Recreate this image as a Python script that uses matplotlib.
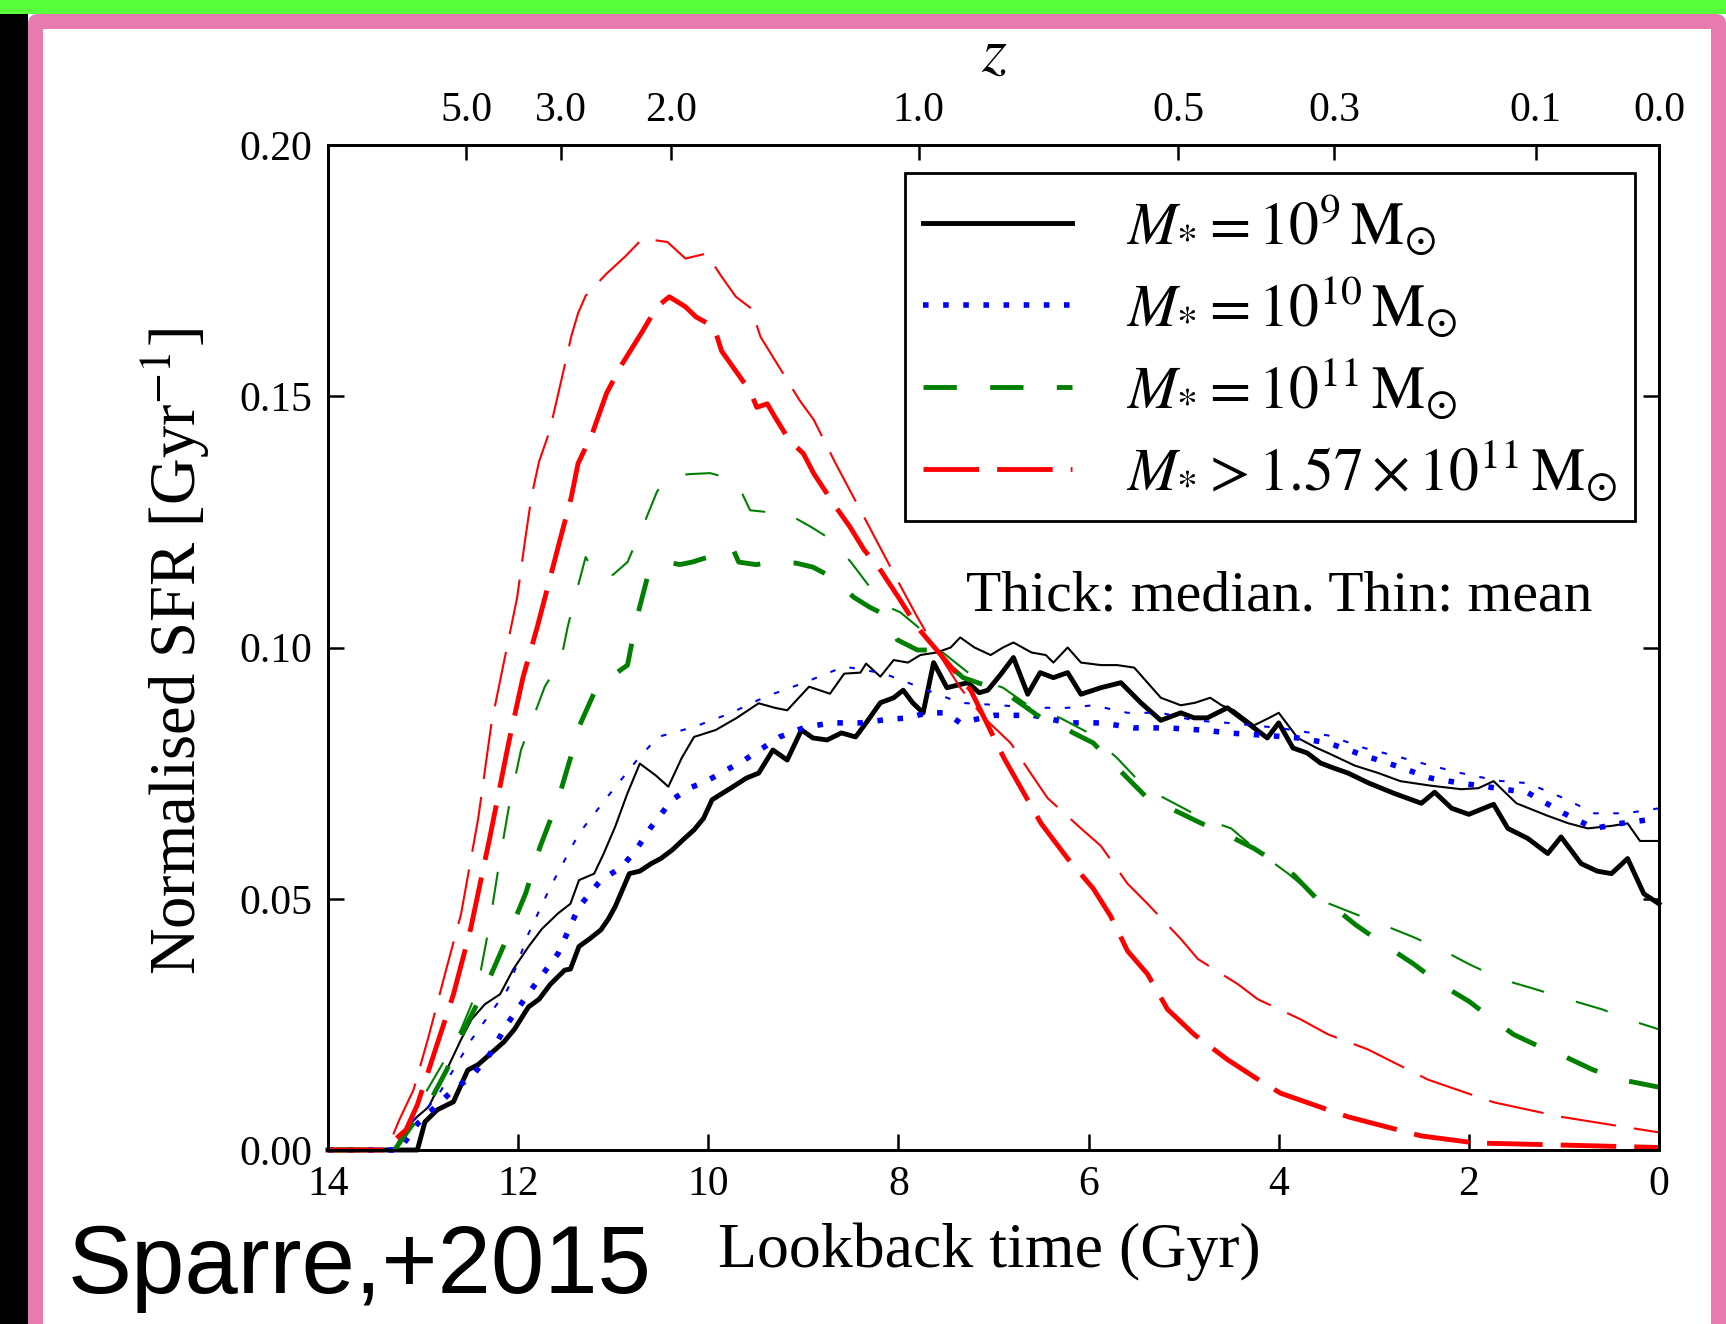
import numpy as np
import matplotlib
matplotlib.use('Agg')
import matplotlib.pyplot as plt
from matplotlib.patches import Rectangle, FancyBboxPatch

plt.rcParams['font.family'] = ['Liberation Serif', 'DejaVu Serif']
plt.rcParams['mathtext.fontset'] = 'stix'
plt.rcParams['lines.scale_dashes'] = False

# ---------------- data (lookback time [Gyr], normalised SFR [Gyr^-1]) ----------------
median_1e9 = [(14.0, 0), (13.3, 0), (13.06, 0), (12.98, 0.0056), (12.85, 0.0080), (12.68, 0.0096),
              (12.53, 0.0159), (12.42, 0.0170), (12.30, 0.0190), (12.15, 0.0215), (12.04, 0.0240),
              (11.89, 0.0285), (11.78, 0.0300), (11.66, 0.0330), (11.51, 0.0358), (11.45, 0.0360),
              (11.36, 0.0405), (11.25, 0.0420), (11.13, 0.0438), (11.05, 0.0460), (10.98, 0.0484),
              (10.83, 0.0550), (10.72, 0.0555), (10.60, 0.0570), (10.50, 0.0580), (10.38, 0.0597),
              (10.25, 0.0620), (10.15, 0.0637), (10.05, 0.0660), (9.96, 0.0697), (9.85, 0.0710),
              (9.74, 0.0723), (9.60, 0.0740), (9.47, 0.0750), (9.32, 0.0796), (9.17, 0.0776),
              (9.02, 0.0836), (8.90, 0.0820), (8.75, 0.0816), (8.60, 0.0830), (8.45, 0.0822),
              (8.34, 0.0850), (8.19, 0.0890), (8.05, 0.0900), (7.95, 0.0915), (7.85, 0.0890),
              (7.74, 0.0870), (7.63, 0.0970), (7.49, 0.0920), (7.38, 0.0925), (7.27, 0.0930),
              (7.15, 0.0910), (7.06, 0.0915), (6.93, 0.0945), (6.79, 0.0980), (6.64, 0.0907),
              (6.51, 0.0950), (6.37, 0.0940), (6.22, 0.0950), (6.08, 0.0907), (5.95, 0.0915),
              (5.87, 0.0920), (5.66, 0.0930), (5.45, 0.0890), (5.24, 0.0855), (5.03, 0.0870),
              (4.89, 0.0860), (4.75, 0.0860), (4.54, 0.0880), (4.33, 0.0850), (4.12, 0.0820),
              (4.00, 0.0850), (3.85, 0.0800), (3.70, 0.0790), (3.56, 0.0770), (3.42, 0.0760),
              (3.27, 0.0750), (3.05, 0.0730), (2.79, 0.0710), (2.50, 0.0690), (2.36, 0.0712),
              (2.18, 0.0680), (2.00, 0.0668), (1.74, 0.0688), (1.59, 0.0640), (1.38, 0.0620),
              (1.17, 0.0590), (1.03, 0.0623), (0.82, 0.0570), (0.65, 0.0555), (0.50, 0.0550),
              (0.33, 0.0580), (0.16, 0.0510), (0.00, 0.0490)]

mean_1e9 = [(14.0, 0), (13.3, 0), (13.25, 0.002), (13.10, 0.006), (12.94, 0.0086), (12.75, 0.016),
            (12.60, 0.022), (12.49, 0.026), (12.35, 0.029), (12.19, 0.031), (12.05, 0.036),
            (11.89, 0.0405), (11.75, 0.044), (11.58, 0.0471), (11.45, 0.049), (11.36, 0.0537),
            (11.20, 0.055), (11.10, 0.059), (10.98, 0.0643), (10.85, 0.071), (10.72, 0.0769),
            (10.55, 0.0745), (10.42, 0.0723), (10.28, 0.078), (10.15, 0.0822), (9.92, 0.0836),
            (9.70, 0.086), (9.47, 0.0889), (9.30, 0.088), (9.17, 0.0875), (8.94, 0.0922),
            (8.72, 0.0908), (8.57, 0.0948), (8.40, 0.095), (8.34, 0.0968), (8.19, 0.0942),
            (8.05, 0.0975), (7.90, 0.097), (7.77, 0.0985), (7.60, 0.099), (7.45, 0.100),
            (7.35, 0.102), (7.20, 0.100), (7.03, 0.0985), (6.90, 0.100), (6.79, 0.101),
            (6.60, 0.099), (6.45, 0.0985), (6.37, 0.097), (6.22, 0.100), (6.08, 0.097),
            (5.87, 0.0965), (5.70, 0.0965), (5.52, 0.096), (5.38, 0.093), (5.24, 0.090),
            (5.03, 0.0885), (4.88, 0.089), (4.72, 0.090), (4.60, 0.0885), (4.47, 0.0875),
            (4.26, 0.0845), (4.10, 0.086), (4.00, 0.087), (3.80, 0.082), (3.60, 0.080),
            (3.48, 0.079), (3.20, 0.0765), (2.95, 0.075), (2.72, 0.0734), (2.40, 0.0725),
            (2.08, 0.0718), (1.90, 0.072), (1.74, 0.0734), (1.50, 0.069), (1.17, 0.0665),
            (0.95, 0.065), (0.75, 0.064), (0.50, 0.0645), (0.33, 0.065), (0.20, 0.0615),
            (0.00, 0.0615)]

median_1e10 = [(14.0, 0), (13.25, 0), (13.06, 0.0052), (12.87, 0.0086), (12.68, 0.012), (12.49, 0.0146),
               (12.30, 0.019), (12.11, 0.0252), (11.89, 0.0312), (11.58, 0.0391), (11.36, 0.0484),
               (11.13, 0.0537), (10.91, 0.0563), (10.75, 0.060), (10.60, 0.0643), (10.38, 0.0697),
               (10.20, 0.072), (10.00, 0.0736), (9.62, 0.0776), (9.25, 0.0822), (9.00, 0.084),
               (8.72, 0.085), (8.40, 0.085), (8.15, 0.0856), (7.90, 0.086), (7.70, 0.087),
               (7.50, 0.087), (7.35, 0.085), (7.00, 0.0865), (6.58, 0.0865), (6.22, 0.085),
               (5.87, 0.085), (5.52, 0.084), (5.17, 0.084), (4.75, 0.0835), (4.54, 0.083),
               (4.12, 0.0825), (3.80, 0.082), (3.48, 0.081), (3.10, 0.0785), (2.79, 0.0766),
               (2.40, 0.074), (2.08, 0.073), (1.70, 0.072), (1.38, 0.0711), (1.00, 0.067),
               (0.68, 0.064), (0.40, 0.065), (0.00, 0.066)]

mean_1e10 = [(14.0, 0), (13.3, 0), (13.17, 0.0046), (12.87, 0.010), (12.68, 0.016), (12.49, 0.022),
             (12.30, 0.027), (12.11, 0.032), (11.89, 0.0431), (11.66, 0.0524), (11.36, 0.063),
             (11.06, 0.0703), (10.75, 0.0776), (10.53, 0.0822), (10.15, 0.0842), (9.77, 0.0869),
             (9.40, 0.0902), (9.02, 0.0928), (8.57, 0.0962), (8.35, 0.0955), (8.15, 0.0948),
             (7.90, 0.093), (7.70, 0.0915), (7.35, 0.089), (6.93, 0.0885), (6.58, 0.088),
             (6.22, 0.088), (5.95, 0.0885), (5.59, 0.087), (5.24, 0.087), (4.89, 0.0855),
             (4.54, 0.085), (4.00, 0.084), (3.48, 0.0825), (3.10, 0.080), (2.79, 0.0785),
             (2.40, 0.0765), (2.08, 0.075), (1.70, 0.0735), (1.38, 0.073), (1.00, 0.070),
             (0.68, 0.067), (0.35, 0.067), (0.00, 0.068)]

median_1e11 = [(14.0, 0), (13.3, 0), (13.13, 0.0046), (12.94, 0.0092), (12.75, 0.016), (12.57, 0.0239),
               (12.34, 0.0325), (12.08, 0.0438), (11.92, 0.0511), (11.77, 0.0603), (11.58, 0.0697),
               (11.45, 0.078), (11.36, 0.0842), (11.20, 0.091), (11.02, 0.0942), (10.85, 0.0965),
               (10.75, 0.106), (10.64, 0.114), (10.54, 0.115), (10.43, 0.117), (10.30, 0.1165),
               (10.17, 0.117), (10.00, 0.118), (9.85, 0.119), (9.75, 0.120), (9.68, 0.117),
               (9.50, 0.1165), (9.38, 0.1168), (9.08, 0.1168), (8.90, 0.116), (8.70, 0.114),
               (8.47, 0.110), (8.30, 0.108), (8.14, 0.1065), (8.01, 0.1015), (7.80, 0.0995),
               (7.66, 0.0995), (7.50, 0.097), (7.32, 0.094), (7.06, 0.0923), (6.80, 0.090),
               (6.50, 0.086), (6.30, 0.0845), (6.16, 0.083), (5.95, 0.081), (5.80, 0.078),
               (5.59, 0.074), (5.38, 0.070), (5.20, 0.0685), (5.03, 0.067), (4.89, 0.0657),
               (4.70, 0.064), (4.54, 0.0627), (4.26, 0.060), (4.01, 0.057), (3.84, 0.0547),
               (3.60, 0.050), (3.40, 0.048), (3.19, 0.0448), (2.90, 0.041), (2.58, 0.037),
               (2.30, 0.033), (2.00, 0.0296), (1.75, 0.026), (1.53, 0.023), (1.25, 0.0205),
               (0.98, 0.0185), (0.70, 0.016), (0.40, 0.014), (0.00, 0.0125)]

mean_1e11 = [(14.0, 0), (13.3, 0), (13.06, 0.0086), (12.80, 0.017), (12.60, 0.024), (12.49, 0.029),
             (12.40, 0.035), (12.30, 0.045), (12.20, 0.057), (12.10, 0.068), (11.97, 0.0796),
             (11.72, 0.0922), (11.55, 0.0975),
             (11.48, 0.104), (11.41, 0.1094), (11.29, 0.118), (11.17, 0.114), (11.00, 0.1145),
             (10.85, 0.117), (10.69, 0.124), (10.54, 0.131), (10.43, 0.134), (10.20, 0.1345),
             (9.98, 0.1347), (9.71, 0.1333), (9.56, 0.1273), (9.40, 0.127), (9.23, 0.1273),
             (8.92, 0.124), (8.70, 0.1214), (8.50, 0.117), (8.30, 0.112), (8.10, 0.108),
             (7.98, 0.107), (7.77, 0.1037), (7.60, 0.100), (7.40, 0.097), (7.20, 0.094),
             (6.90, 0.092), (6.60, 0.088), (6.30, 0.086), (6.00, 0.083), (5.70, 0.078),
             (5.40, 0.072), (5.10, 0.069), (4.80, 0.066), (4.50, 0.064), (4.19, 0.059),
             (3.90, 0.055), (3.56, 0.0497), (3.20, 0.047), (2.93, 0.045), (2.60, 0.0425),
             (2.30, 0.040), (2.00, 0.037), (1.66, 0.034), (1.30, 0.032), (0.96, 0.030),
             (0.60, 0.028), (0.33, 0.026), (0.00, 0.024)]

median_massive = [(14.0, 0), (13.4, 0), (13.3, 0.002), (13.18, 0.004), (13.06, 0.009), (12.87, 0.020),
                  (12.68, 0.031), (12.50, 0.044), (12.30, 0.062), (12.10, 0.081), (11.95, 0.094),
                  (11.80, 0.104), (11.67, 0.1134), (11.56, 0.1214), (11.44, 0.130), (11.37, 0.1366),
                  (11.22, 0.1426), (11.07, 0.1506), (10.92, 0.156), (10.69, 0.163), (10.54, 0.1678),
                  (10.41, 0.1698), (10.24, 0.1678), (10.13, 0.1658), (9.94, 0.1638), (9.86, 0.159),
                  (9.71, 0.155), (9.56, 0.151), (9.49, 0.1478), (9.38, 0.1485), (9.30, 0.1459),
                  (9.15, 0.1413), (9.00, 0.1386), (8.89, 0.1346), (8.66, 0.128), (8.51, 0.124),
                  (8.36, 0.1194), (8.21, 0.116), (8.00, 0.110), (7.80, 0.104), (7.53, 0.098),
                  (7.24, 0.0915), (6.89, 0.078), (6.50, 0.065), (6.22, 0.058), (5.95, 0.052),
                  (5.77, 0.0466), (5.59, 0.0396), (5.38, 0.035), (5.17, 0.028), (4.89, 0.023),
                  (4.54, 0.018), (4.19, 0.0137), (3.98, 0.0113), (3.27, 0.0066), (2.50, 0.0028),
                  (1.93, 0.0014), (1.05, 0.001), (0.00, 0.0005)]

mean_massive = [(14.0, 0), (13.45, 0), (13.36, 0.001), (13.25, 0.006), (13.10, 0.012), (12.94, 0.0227),
                (12.77, 0.035), (12.60, 0.047), (12.42, 0.066), (12.28, 0.085), (12.14, 0.098),
                (12.01, 0.110), (11.93, 0.121), (11.86, 0.130), (11.78, 0.137), (11.67, 0.143),
                (11.56, 0.152), (11.44, 0.162), (11.37, 0.1665), (11.29, 0.170), (11.07, 0.1744),
                (10.88, 0.1777), (10.69, 0.1814), (10.43, 0.1807), (10.24, 0.1774), (10.02, 0.1784),
                (9.86, 0.1738), (9.71, 0.1698), (9.55, 0.1675), (9.45, 0.1618), (9.30, 0.1572),
                (9.04, 0.1492), (8.89, 0.1453), (8.66, 0.1366), (8.29, 0.1234), (8.00, 0.113),
                (7.80, 0.106), (7.60, 0.0995), (7.35, 0.092), (7.10, 0.086), (6.82, 0.081),
                (6.61, 0.075), (6.43, 0.070), (6.08, 0.064), (5.87, 0.0605), (5.59, 0.053),
                (5.38, 0.049), (5.03, 0.042), (4.85, 0.038), (4.43, 0.033), (4.22, 0.030),
                (3.77, 0.026), (3.48, 0.023), (3.06, 0.020), (2.43, 0.014), (1.74, 0.0095),
                (1.03, 0.0066), (0.50, 0.005), (0.00, 0.0035)]

legend_labels = [r'$M_{*} = 10^{9}\,\mathrm{M}_{\odot}$',
                 r'$M_{*} = 10^{10}\,\mathrm{M}_{\odot}$',
                 r'$M_{*} = 10^{11}\,\mathrm{M}_{\odot}$',
                 r'$M_{*} > 1.57 \times 10^{11}\,\mathrm{M}_{\odot}$']
x_ticks = [14, 12, 10, 8, 6, 4, 2, 0]
y_ticks = [0.00, 0.05, 0.10, 0.15, 0.20]
z_ticks = [5.0, 3.0, 2.0, 1.0, 0.5, 0.3, 0.1, 0.0]

# cosmology (WMAP9 / Illustris) for the redshift axis
H0, Om = 70.4, 0.2726


def lookback(z):
    zz = np.linspace(0.0, z, 4001)
    f = 1.0 / ((1 + zz) * np.sqrt(Om * (1 + zz) ** 3 + (1 - Om)))
    return 977.8 / H0 * np.trapezoid(f, zz) if z > 0 else 0.0


# ---------------- figure & frame ----------------
W, H = 1726, 1324
fig = plt.figure(figsize=(W / 100, H / 100), dpi=100)
bg = fig.add_axes([0, 0, 1, 1], zorder=-10)
bg.set_xlim(0, W)
bg.set_ylim(H, 0)
bg.axis('off')
bg.add_patch(Rectangle((0, 0), W, 14, color='#58ff3a', lw=0))
bg.add_patch(Rectangle((0, 14), 28, H, color='black', lw=0))
bg.add_patch(FancyBboxPatch((28, 14), W - 28, H + 50,
                            boxstyle='round,pad=0,rounding_size=10', color='#e77aae', lw=0))
bg.add_patch(Rectangle((43, 29), W - 43 - 15, H, color='white', lw=0))

ax = fig.add_axes([328 / W, 1 - 1150 / H, 1331 / W, 1005 / H])
ax.set_facecolor('white')

styles = {
    'k': dict(color='black', linestyle='-'),
    'b': dict(color='#0000ff', linestyle=(0, (4, 10.5))),
    'g': dict(color='#008000', linestyle=(0, (24, 24))),
    'r': dict(color='#ff0000', linestyle=(0, (40, 13))),
}
thick_lw = {'k': 3.5, 'b': 4.0, 'g': 3.5, 'r': 3.5}
series = [
    (mean_1e9, median_1e9, 'k'),
    (mean_1e10, median_1e10, 'b'),
    (mean_1e11, median_1e11, 'g'),
    (mean_massive, median_massive, 'r'),
]
handles = []
for (mean, med, key), lab in zip(series, legend_labels):
    tm, vm = zip(*mean)
    ax.plot(tm, vm, lw=1.5, clip_on=False, **styles[key])
    td, vd = zip(*med)
    h, = ax.plot(td, vd, lw=thick_lw[key], clip_on=False, label=lab, **styles[key])
    handles.append(h)

ax.set_xlim(14, 0)
ax.set_ylim(0, 0.2)
ax.set_xticks(x_ticks)
ax.set_xticklabels([str(v) for v in x_ticks])
ax.set_yticks(y_ticks)
ax.set_yticklabels(['%.2f' % v for v in y_ticks])
ax.tick_params(axis='both', direction='in', length=11.5, width=1.8, labelsize=30,
               pad=11, right=True, top=False)
for s in ax.spines.values():
    s.set_linewidth(2.0)

ax.set_xlabel('Lookback time (Gyr)', fontsize=46)
ax.xaxis.set_label_coords(0.497, -0.072)
ax.set_ylabel(r'Normalised SFR [Gyr$^{-1}$]', fontsize=46.5)
ax.yaxis.set_label_coords(-0.088, 0.496)

axt = ax.twiny()
axt.set_xlim(14, 0)
axt.set_xticks([lookback(z) for z in z_ticks])
axt.set_xticklabels(['%.1f' % z for z in z_ticks])
axt.tick_params(axis='x', direction='in', length=11, width=1.8, labelsize=30, pad=11)
axt.set_xlabel('$z$', fontsize=46)
axt.xaxis.set_label_coords(0.5004, 1.074)
for s in axt.spines.values():
    s.set_linewidth(2.0)

leg = ax.legend(handles=handles, loc='upper right', bbox_to_anchor=(0.982, 0.972),
                borderaxespad=0, fontsize=43, handlelength=2.5, handletextpad=0.9,
                labelspacing=0.276, borderpad=0.3, frameon=True, fancybox=False,
                edgecolor='black', framealpha=1)
leg.get_frame().set_linewidth(2.0)

ax.text(0.715, 0.551, 'Thick: median. Thin: mean', transform=ax.transAxes,
        ha='center', va='center', fontsize=41.5)

fig.text(68 / W, 1 - 1293 / H, 'Sparre,+2015', family=['Liberation Sans', 'DejaVu Sans'],
         fontsize=69, ha='left', va='baseline')

fig.savefig('out.png', dpi=100)
